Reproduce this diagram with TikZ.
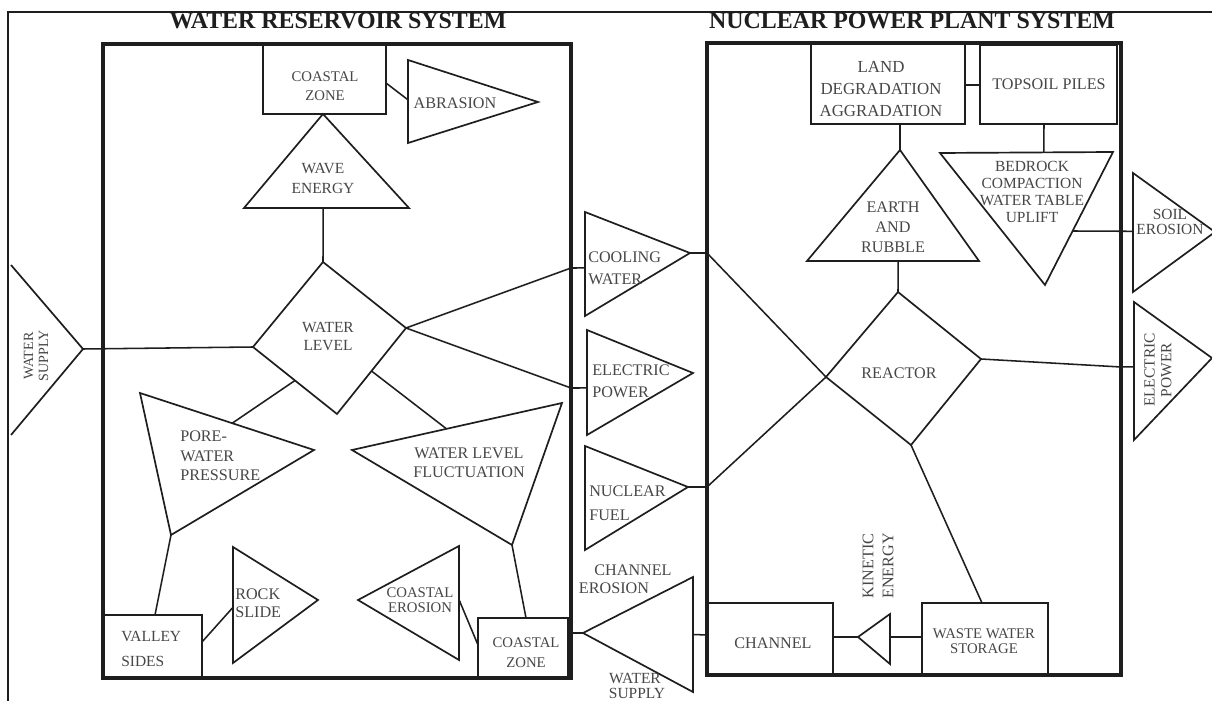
\documentclass[tikz,border=0pt]{standalone}
\usepackage{fontspec}
\setmainfont{Liberation Serif}
\usetikzlibrary{calc}
\definecolor{ink}{HTML}{1E1E1E}
\definecolor{txt}{HTML}{474747}
\newcommand{\lblsize}[2]{\fontsize{#1}{#2}\selectfont}
\tikzset{
	shp/.style={draw=ink, line width=1.2pt, line join=miter},
	sysbox/.style={draw=ink, line width=2.4pt},
	link/.style={draw=ink, line width=1.1pt},
	lbl/.style={text=txt, inner sep=0pt, align=center, font=\lblsize{11.5}{14}},
	ttl/.style={text=ink, inner sep=0pt, font=\bfseries\lblsize{17}{19}},
}
\begin{document}
\begin{tikzpicture}[x=0.025cm, y=-0.025cm]
			\useasboundingbox (0,0) rectangle (1212,701);
			\fill[white] (0,0) rectangle (1212,701);

			% frame and titles
			\draw[ink, line width=1.4pt] (8,701) -- (8,12) -- (1212,12);
			\node[ttl, anchor=base] (ttlWR) at (338,29) {WATER RESERVOIR SYSTEM};
			\node[ttl, anchor=base] (ttlNP) at (912,29) {NUCLEAR POWER PLANT SYSTEM};

			\draw[sysbox] (103,44) rectangle (571,678);
			\draw[sysbox] (707,43) rectangle (1121,675);

			% water reservoir system
			\draw[shp] (263,45) rectangle (386,114);
			\node[lbl, font=\lblsize{10.5}{13.5}] (czTop) at (325,86) {COASTAL\\ZONE};
			\coordinate (czTopB) at (324,114);
			\coordinate (czTopR) at (386,83);

			\coordinate (abrA) at (408,60);
			\coordinate (abrB) at (408,143);
			\coordinate (abrC) at (538,102);
			\draw[shp] (abrA) -- (abrC) -- (abrB) -- cycle;
			\node[lbl] (abr) at (455,103) {ABRASION};
			\draw[link] (czTopR) -- ($(abrA)!0.48!(abrB)$);

			\coordinate (waveA) at (323,114);
			\coordinate (waveB) at (244,208);
			\coordinate (waveC) at (409,208);
			\draw[shp] (waveA) -- (waveC) -- (waveB) -- cycle;
			\node[lbl, font=\lblsize{11}{14.2}] (wave) at (323,178) {WAVE\\ENERGY};

			\coordinate (wlT) at (323,262);
			\coordinate (wlR) at (406,328);
			\coordinate (wlB) at (337,414);
			\coordinate (wlL) at (253,347);
			\draw[shp] (wlT) -- (wlR) -- (wlB) -- (wlL) -- cycle;
			\node[lbl, font=\lblsize{11}{12.8}] (wl) at (328,337) {WATER\\LEVEL};
			\draw[link] ($(waveB)!0.48!(waveC)$) -- (wlT);

			\coordinate (wsA) at (11,265);
			\coordinate (wsB) at (11,435);
			\coordinate (wsC) at (83,349);
			\draw[shp] (wsA) -- (wsC) -- (wsB);
			\node[lbl, rotate=90, font=\lblsize{10}{10.7}] (ws) at (36,356) {WATER\\SUPPLY};
			\draw[link] (wsC) -- (wlL);

			\coordinate (pwA) at (140,393);
			\coordinate (pwB) at (314,450);
			\coordinate (pwC) at (171,535);
			\draw[shp] (pwA) -- (pwB) -- (pwC) -- cycle;
			\node[lbl, align=left, anchor=west] (pw) at (180,456) {PORE-\\WATER\\PRESSURE};
			\draw[link] ($(wlL)!0.5!(wlB)$) -- ($(pwA)!0.53!(pwB)$);

			\coordinate (wfA) at (352,450);
			\coordinate (wfB) at (562,403);
			\coordinate (wfC) at (512,545);
			\draw[shp] (wfA) -- (wfB) -- (wfC) -- cycle;
			\node[lbl, font=\lblsize{11.5}{13.5}] (wf) at (469,463) {WATER LEVEL\\FLUCTUATION};
			\draw[link] ($(wlR)!0.5!(wlB)$) -- ($(wfA)!0.45!(wfB)$);

			\draw[shp] (104,615) rectangle (202,678);
			\node[lbl, align=left, anchor=west, font=\lblsize{11}{17.8}] (vs) at (121,649) {VALLEY\\SIDES};
			\coordinate (vsT) at (155,615);
			\coordinate (vsR) at (202,642);
			\draw[link] (pwC) -- (vsT);

			\coordinate (rsA) at (233,547);
			\coordinate (rsB) at (233,663);
			\coordinate (rsC) at (318,600);
			\draw[shp] (rsA) -- (rsC) -- (rsB) -- cycle;
			\node[lbl, align=left, anchor=west, font=\lblsize{11.5}{12.8}] (rs) at (235,603) {ROCK\\SLIDE};
			\draw[link] (vsR) -- ($(rsA)!0.52!(rsB)$);

			\coordinate (ceA) at (358,600);
			\coordinate (ceB) at (459,546);
			\coordinate (ceC) at (459,660);
			\draw[shp] (ceA) -- (ceB) -- (ceC) -- cycle;
			\node[lbl, font=\lblsize{10.5}{10.5}] (ce) at (420,600) {COASTAL\\EROSION};

			\draw[shp] (478,618) rectangle (568,678);
			\node[lbl, font=\lblsize{10.5}{14.2}] (czBot) at (526,653) {COASTAL\\ZONE};
			\coordinate (czBotT) at (526,618);
			\coordinate (czBotL) at (478,645);
			\coordinate (czBotR) at (568,633);
			\draw[link] (wfC) -- (czBotT);
			\draw[link] ($(ceB)!0.47!(ceC)$) -- (czBotL);

			% between the systems
			\coordinate (cwA) at (585,212);
			\coordinate (cwB) at (585,316);
			\coordinate (cwC) at (690,253);
			\draw[shp] (cwA) -- (cwC) -- (cwB) -- cycle;
			\node[lbl, align=left, anchor=west, font=\lblsize{11.5}{15.6}] (cw) at (588,268) {COOLING\\WATER};
			\coordinate (cwBend) at (571,268);
			\coordinate (cwOut) at (707,253);
			\draw[link] (wlR) -- (cwBend) -- ($(cwA)!0.538!(cwB)$);

			\coordinate (epA) at (587,330);
			\coordinate (epB) at (587,435);
			\coordinate (epC) at (693,373);
			\draw[shp] (epA) -- (epC) -- (epB) -- cycle;
			\node[lbl, align=left, anchor=west, font=\lblsize{11.5}{15.6}] (ep) at (592,381) {ELECTRIC\\POWER};
			\coordinate (epBend) at (571,388);
			\draw[link] (wlR) -- (epBend) -- ($(epA)!0.552!(epB)$);

			\coordinate (nfA) at (585,446);
			\coordinate (nfB) at (585,550);
			\coordinate (nfC) at (688,487);
			\draw[shp] (nfA) -- (nfC) -- (nfB) -- cycle;
			\node[lbl, align=left, anchor=west, font=\lblsize{11.5}{17}] (nf) at (589,503) {NUCLEAR\\FUEL};
			\coordinate (nfOut) at (707,487);

			\coordinate (chA) at (583,633);
			\coordinate (chB) at (693,577);
			\coordinate (chC) at (693,692);
			\draw[shp] (chA) -- (chB) -- (chC) -- cycle;
			\node[lbl] (chE1) at (633,570) {CHANNEL};
			\node[lbl] (chE2) at (614,588) {EROSION};
			\node[lbl, font=\lblsize{11}{13}] (chW1) at (635,679) {WATER};
			\node[lbl, font=\lblsize{11}{13}] (chW2) at (637,693) {SUPPLY};
			\draw[link] (czBotR) -- (chA);

			% nuclear power plant system
			\draw[shp] (811,44) rectangle (965,124);
			\node[lbl, font=\lblsize{12}{15.6}] (ld) at (881,89) {LAND\\DEGRADATION\\AGGRADATION};
			\draw[shp] (980,45) rectangle (1117,124);
			\node[lbl] (tp) at (1049,84) {TOPSOIL PILES};
			\coordinate (ldR) at (965,85);
			\coordinate (tpL) at (980,85);
			\coordinate (ldB) at (900,124);
			\coordinate (tpB) at (1044,124);
			\draw[link] (ldR) -- (tpL);

			\coordinate (erA) at (900,150);
			\coordinate (erB) at (807,261);
			\coordinate (erC) at (979,261);
			\draw[shp] (erA) -- (erC) -- (erB) -- cycle;
			\node[lbl, font=\lblsize{11.5}{14.2}] (er) at (893,227) {EARTH\\AND\\RUBBLE};
			\draw[link] (ldB) -- (erA);

			\coordinate (rcT) at (898,292);
			\coordinate (rcR) at (981,359);
			\coordinate (rcB) at (911,445);
			\coordinate (rcL) at (826,377);
			\draw[shp] (rcT) -- (rcR) -- (rcB) -- (rcL) -- cycle;
			\node[lbl] (rc) at (899,373) {REACTOR};
			\draw[link] ($(erB)!0.53!(erC)$) -- (rcT);

			\draw[link] (cwC) -- (cwOut) -- (rcL);
			\draw[link] (nfC) -- (nfOut) -- (rcL);

			\coordinate (brA) at (940,153);
			\coordinate (brB) at (1113,152);
			\coordinate (brC) at (1045,285);
			\draw[shp] (brA) -- (brB) -- (brC) -- cycle;
			\node[lbl, font=\lblsize{11}{12}] (br) at (1032,192) {BEDROCK\\COMPACTION\\WATER TABLE\\UPLIFT};
			\draw[link] (tpB) -- ($(brA)!0.6!(brB)$);

			\coordinate (seA) at (1133,173);
			\coordinate (seB) at (1133,292);
			\coordinate (seC) at (1215,232);
			\draw[shp] (seA) -- (seC) -- (seB) -- cycle;
			\node[lbl, font=\lblsize{11}{10.5}] (se) at (1170,222) {SOIL\\EROSION};
			\draw[link] ($(brB)!0.594!(brC)$) -- ($(seA)!0.49!(seB)$);

			\coordinate (eqA) at (1134,302);
			\coordinate (eqB) at (1134,440);
			\coordinate (eqC) at (1212,358);
			\draw[shp] (eqA) -- (eqC) -- (eqB) -- cycle;
			\node[lbl, rotate=90, font=\lblsize{11}{12}] (eq) at (1158,370) {ELECTRIC\\POWER};
			\coordinate (eqBend) at (1121,367);
			\draw[link] (rcR) -- (eqBend) -- ($(eqA)!0.47!(eqB)$);

			\draw[shp] (708,603) rectangle (833,675);
			\node[lbl] (ch) at (773,643) {CHANNEL};
			\coordinate (chL) at (708,635);
			\coordinate (chBR) at (833,637);
			\draw[link] ($(chB)!0.5!(chC)$) -- (chL);

			\coordinate (keA) at (858,637);
			\coordinate (keB) at (890,614);
			\coordinate (keC) at (890,664);
			\draw[shp] (keA) -- (keB) -- (keC) -- cycle;
			\node[lbl, rotate=90, font=\lblsize{11.5}{14.2}] (ke) at (878,566) {KINETIC\\ENERGY};
			\draw[link] (chBR) -- (keA);

			\draw[shp] (922,603) rectangle (1048,675);
			\node[lbl, font=\lblsize{10.5}{10.5}] (ww) at (984,641) {WASTE WATER\\STORAGE};
			\coordinate (wwL) at (922,637);
			\coordinate (wwT) at (982,603);
			\draw[link] ($(keB)!0.46!(keC)$) -- (wwL);
			\draw[link] (rcB) -- (wwT);

		\end{tikzpicture}
\end{document}
